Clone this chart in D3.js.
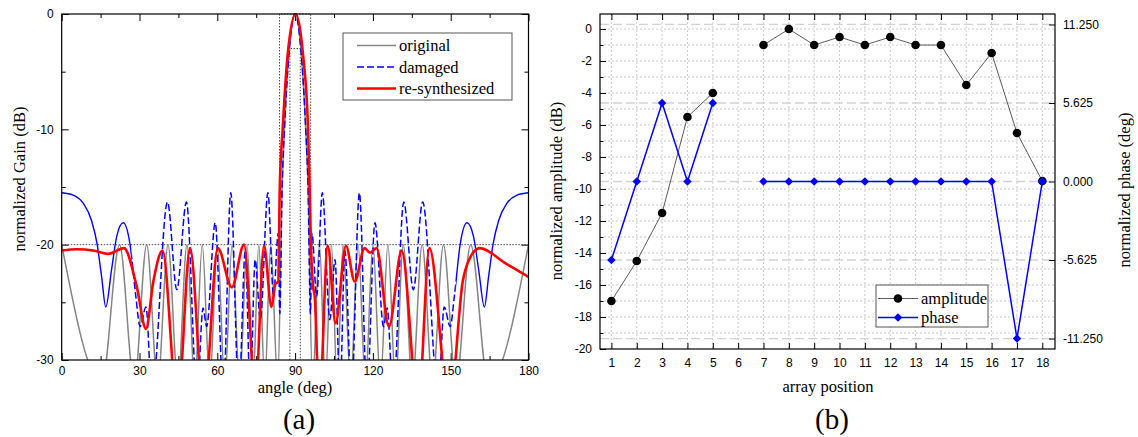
<!DOCTYPE html>
<html>
<head>
<meta charset="utf-8">
<script src="https://cdn.jsdelivr.net/npm/d3@7"></script>
<style>
body { margin: 0; background: #fff; }
.tick text { font-family: "Liberation Sans", Arial, sans-serif; font-size: 12px; fill: #000; }
.tick line { stroke: #000; stroke-width: 1; }
.serif { font-family: "Liberation Serif", "Times New Roman", serif; font-size: 16.5px; fill: #000; }
</style>
</head>
<body>
<script>

// ---- panel (a): radiation patterns, [angle deg, gain dB]
var originalPattern = [[0,-20],[15.5,-32],[22.3,-20],[28,-32],[32.8,-20],[37,-32],[41,-20],[44.8,-32],[48.3,-20],[51.3,-32],[54.2,-20],[57.1,-32],[60,-20],[62.9,-32],[65.7,-20],[68.6,-32],[71.5,-20],[73.8,-32],[76,-20],[78.3,-32],[80.6,-20],[83.3,-32],[85,-15],[85.9,-10],[87.8,-3],[90,0],[92.2,-3],[94.1,-10],[95,-15],[96.7,-32],[99.4,-20],[101.7,-32],[104,-20],[106.2,-32],[108.5,-20],[111.4,-32],[114.3,-20],[117.1,-32],[120,-20],[122.9,-32],[125.8,-20],[128.7,-32],[131.7,-20],[135.2,-32],[139,-20],[143,-32],[147.2,-20],[152,-32],[157.7,-20],[164.5,-32],[180,-20]];

var damagedPattern = [[0,-15.5],[4.4,-15.7],[8.3,-16.4],[11.5,-17.9],[13.7,-20],[15.4,-22.8],[17,-25.4],[19.2,-22.2],[21.2,-19.3],[23.7,-18.1],[26.3,-19.9],[28.6,-24.5],[30.2,-27.1],[32.5,-25.4],[34.8,-33],[40.8,-16.3],[44.4,-23.9],[48.1,-16.3],[52.2,-33],[54.5,-25.5],[55.9,-27.1],[59.2,-18.1],[62.3,-33],[65.2,-15.5],[68.3,-33],[70.8,-20.5],[72.7,-33],[74.6,-21.3],[76.6,-26.5],[79.5,-15.5],[81.7,-24.5],[83.5,-19],[84.1,-26],[85,-15],[85.9,-10],[87.8,-3],[90,0],[92.2,-3],[94.1,-10],[95,-15],[95.9,-26],[96.5,-19],[98.3,-24.5],[100.5,-15.5],[103.4,-26.5],[105.4,-21.3],[107.3,-33],[109.2,-20.5],[111.7,-33],[114.8,-15.5],[117.7,-33],[120.8,-18.1],[124.1,-27.1],[125.5,-25.5],[127.8,-33],[131.9,-16.3],[135.6,-23.9],[139.2,-16.3],[145.2,-33],[147.5,-25.4],[149.8,-27.1],[151.4,-24.5],[153.7,-19.9],[156.3,-18.1],[158.8,-19.3],[160.8,-22.2],[163,-25.4],[164.6,-22.8],[166.3,-20],[168.5,-17.9],[171.7,-16.4],[175.6,-15.7],[180,-15.5]];

var resynthPattern = [[0,-20.5],[6,-20.4],[12,-20.5],[18,-20.8],[24,-20.3],[28.9,-23.6],[32.5,-27.3],[35.4,-23.1],[38.9,-20.5],[44.7,-34],[49.5,-20.3],[54.8,-34],[60.2,-20.3],[65.6,-23.7],[70.3,-20],[74.7,-33],[78,-20.1],[80.9,-25.4],[82.4,-23.4],[83.5,-23.2],[84.1,-15],[85.2,-10],[87.2,-3.4],[90.2,0],[93,-3.4],[95,-10],[95.6,-15],[96.1,-20],[96.9,-23.5],[97.6,-24.6],[99.3,-34],[102.6,-20.1],[105.6,-26.8],[109.6,-20.1],[113,-23.2],[116.8,-20.3],[118.9,-20.7],[121.4,-20.3],[126.2,-27.1],[131.1,-20.5],[137.5,-34],[141.8,-20.3],[149.5,-34],[154.7,-23.1],[158,-20.9],[161.2,-20.3],[171,-21.6],[180,-22.8]];

// sidelobe mask (upper) and main beam mask (lower)
var upperMask = [[0,-20],[84,-20],[84,0],[96,0],[96,-20],[180,-20]];
var lowerMask = [[88,-30],[88,-3],[92,-3],[92,-30]];

var angleTicks = [0,30,60,90,120,150,180];
var angleMinor = [15,45,75,105,135,165];
var gainTicks = [-30,-20,-10,0];
var gainMinor = [-25,-15,-5];

// ---- panel (b): element excitations (element 6 is the damaged one)
var positions = [1,2,3,4,5,6,7,8,9,10,11,12,13,14,15,16,17,18];
var amplitude = [-17,-14.5,-11.5,-5.5,-4,null,-1,0,-1,-0.5,-1,-0.5,-1,-1,-3.5,-1.5,-6.5,-9.5];
var phase = [-5.625,0,5.625,0,5.625,null,0,0,0,0,0,0,0,0,0,0,-11.25,0];
var ampTicks = [0,-2,-4,-6,-8,-10,-12,-14,-16,-18,-20];
var ampMinor = [-1,-3,-5,-7,-9,-11,-13,-15,-17,-19];
var phaseTicks = [11.25,5.625,0,-5.625,-11.25];

var width = 1138, height = 437;

var svg = d3.select("body").append("svg")
    .attr("width", width)
    .attr("height", height);

svg.append("rect").attr("width", width).attr("height", height).attr("fill", "white");

// plain hyphen minus like the original figure
var plain = function(d){ return String(d); };

function cleanAxis(g){
    g.select(".domain").remove();
    g.attr("font-size", null).attr("font-family", null);
}

function drawPanelA(){
    var x = d3.scaleLinear().domain([0,180]).range([61.7,528.5]);
    var y = d3.scaleLinear().domain([-30,0]).range([360,14]);

    var defs = svg.append("defs");
    defs.append("clipPath").attr("id","clipA")
        .append("rect").attr("x",x(0)).attr("y",8).attr("width",x(180)-x(0)).attr("height",y(-30)-8);
    // the damaged curve looks solid near the ends and dashed in between
    var solidEnds = defs.append("clipPath").attr("id","clipEnds");
    solidEnds.append("rect").attr("x",x(0)).attr("y",8).attr("width",x(27)-x(0)).attr("height",y(-30)-8);
    solidEnds.append("rect").attr("x",x(152)).attr("y",8).attr("width",x(180)-x(152)).attr("height",y(-30)-8);
    defs.append("clipPath").attr("id","clipMid")
        .append("rect").attr("x",x(27)).attr("y",8).attr("width",x(152)-x(27)).attr("height",y(-30)-8);

    // ticks, all pointing inward
    svg.append("g").attr("transform","translate(0,"+y(-30)+")")
        .call(d3.axisBottom(x).tickValues(angleTicks).tickSize(-7).tickPadding(6.5).tickFormat(plain)).call(cleanAxis);
    svg.append("g").attr("transform","translate(0,"+y(-30)+")")
        .call(d3.axisBottom(x).tickValues(angleMinor).tickSize(-4).tickFormat("")).call(cleanAxis);
    svg.append("g").attr("transform","translate(0,"+y(0)+")")
        .call(d3.axisTop(x).tickValues(angleTicks).tickSize(-7).tickFormat("")).call(cleanAxis);
    svg.append("g").attr("transform","translate(0,"+y(0)+")")
        .call(d3.axisTop(x).tickValues(angleMinor).tickSize(-4).tickFormat("")).call(cleanAxis);
    svg.append("g").attr("transform","translate("+x(0)+",0)")
        .call(d3.axisLeft(y).tickValues(gainTicks).tickSize(-7).tickPadding(8).tickFormat(plain)).call(cleanAxis);
    svg.append("g").attr("transform","translate("+x(0)+",0)")
        .call(d3.axisLeft(y).tickValues(gainMinor).tickSize(-4).tickFormat("")).call(cleanAxis);
    svg.append("g").attr("transform","translate("+x(180)+",0)")
        .call(d3.axisRight(y).tickValues(gainTicks).tickSize(-7).tickFormat("")).call(cleanAxis);
    svg.append("g").attr("transform","translate("+x(180)+",0)")
        .call(d3.axisRight(y).tickValues(gainMinor).tickSize(-4).tickFormat("")).call(cleanAxis);

    var plot = svg.append("g").attr("clip-path","url(#clipA)");

    var mask = d3.line().x(function(d){return x(d[0]);}).y(function(d){return y(d[1]);});
    plot.append("path").attr("d", mask(upperMask))
        .attr("fill","none").attr("stroke","#333").attr("stroke-width",0.9).attr("stroke-dasharray","1.5,1.5");
    plot.append("path").attr("d", mask(lowerMask))
        .attr("fill","none").attr("stroke","#333").attr("stroke-width",0.9).attr("stroke-dasharray","1.5,1.5");

    var line = d3.line()
        .x(function(d){return x(d[0]);})
        .y(function(d){return y(d[1]);})
        .curve(d3.curveMonotoneX);

    plot.append("path").attr("d", line(originalPattern))
        .attr("fill","none").attr("stroke","#858585").attr("stroke-width",1.5);
    plot.append("path").attr("d", line(damagedPattern)).attr("clip-path","url(#clipEnds)")
        .attr("fill","none").attr("stroke","#0000ff").attr("stroke-width",1.4);
    plot.append("path").attr("d", line(damagedPattern)).attr("clip-path","url(#clipMid)")
        .attr("fill","none").attr("stroke","#0000ff").attr("stroke-width",1.5).attr("stroke-dasharray","7,3");
    plot.append("path").attr("d", line(resynthPattern))
        .attr("fill","none").attr("stroke","#ff0000").attr("stroke-width",2.6);

    svg.append("rect").attr("x",x(0)).attr("y",y(0)).attr("width",x(180)-x(0)).attr("height",y(-30)-y(0))
        .attr("fill","none").attr("stroke","#000").attr("stroke-width",1.2);

    // legend
    svg.append("rect").attr("x",343).attr("y",33).attr("width",169).attr("height",67)
        .attr("fill","white").attr("stroke","#444").attr("stroke-width",0.9);
    var items = [
        {name:"original", color:"#858585", w:1.5, dash:null, y:45.5},
        {name:"damaged", color:"#0000ff", w:1.5, dash:"7,3", y:67},
        {name:"re-synthesized", color:"#ff0000", w:2.6, dash:null, y:88.5}
    ];
    items.forEach(function(it){
        svg.append("line").attr("x1",357).attr("x2",396).attr("y1",it.y).attr("y2",it.y)
            .attr("stroke",it.color).attr("stroke-width",it.w).attr("stroke-dasharray",it.dash);
        svg.append("text").attr("class","serif").attr("x",399).attr("y",it.y+5.5).text(it.name);
    });

    svg.append("text").attr("class","serif")
        .attr("transform","translate(25,179) rotate(-90)")
        .style("text-anchor","middle")
        .text("normalized Gain (dB)");
    svg.append("text").attr("class","serif")
        .attr("x",295).attr("y",393)
        .style("text-anchor","middle")
        .text("angle (deg)");
    svg.append("text").attr("class","serif")
        .attr("x",299).attr("y",429)
        .style("text-anchor","middle").style("font-size","29px")
        .text("(a)");
}

function drawPanelB(){
    var x = d3.scaleLinear().domain([0.55,18.5]).range([600,1055]);
    var yAmp = d3.scaleLinear().domain([-20,0.94]).range([349,14]);
    var yPh = d3.scaleLinear().domain([-12,12]).range([349,14]);

    // grid
    var grid = svg.append("g");
    grid.selectAll(".vgrid").data(positions).enter().append("line")
        .attr("x1",function(d){return x(d);}).attr("x2",function(d){return x(d);})
        .attr("y1",14).attr("y2",349)
        .attr("stroke","#c4c4c4").attr("stroke-width",0.9).attr("stroke-dasharray","2,2");
    grid.selectAll(".hgrid").data(d3.range(-19,1)).enter().append("line")
        .attr("x1",600).attr("x2",1055)
        .attr("y1",function(d){return yAmp(d);}).attr("y2",function(d){return yAmp(d);})
        .attr("stroke","#c4c4c4").attr("stroke-width",0.9).attr("stroke-dasharray","2,2");
    grid.selectAll(".pgrid").data(phaseTicks).enter().append("line")
        .attr("x1",600).attr("x2",1055)
        .attr("y1",function(d){return yPh(d);}).attr("y2",function(d){return yPh(d);})
        .attr("stroke","#d2d2d2").attr("stroke-width",1.3).attr("stroke-dasharray","9,4");

    // ticks
    svg.append("g").attr("transform","translate(0,349)")
        .call(d3.axisBottom(x).tickValues(positions).tickSize(-6).tickPadding(9).tickFormat(plain)).call(cleanAxis);
    svg.append("g").attr("transform","translate(0,14)")
        .call(d3.axisTop(x).tickValues(positions).tickSize(-6).tickFormat("")).call(cleanAxis);
    svg.append("g").attr("transform","translate(600,0)")
        .call(d3.axisLeft(yAmp).tickValues(ampTicks).tickSize(-6).tickPadding(8).tickFormat(plain)).call(cleanAxis);
    svg.append("g").attr("transform","translate(600,0)")
        .call(d3.axisLeft(yAmp).tickValues(ampMinor).tickSize(-3.5).tickFormat("")).call(cleanAxis);
    svg.append("g").attr("transform","translate(1055,0)")
        .call(d3.axisRight(yPh).tickValues(phaseTicks).tickSize(-6).tickPadding(8)
            .tickFormat(function(d){return d.toFixed(3);})).call(cleanAxis);

    svg.append("rect").attr("x",600).attr("y",14).attr("width",455).attr("height",335)
        .attr("fill","none").attr("stroke","#000").attr("stroke-width",1.2);

    var ampLine = d3.line()
        .defined(function(d,i){return amplitude[i] !== null;})
        .x(function(d){return x(d);})
        .y(function(d,i){return yAmp(amplitude[i]);});
    var phLine = d3.line()
        .defined(function(d,i){return phase[i] !== null;})
        .x(function(d){return x(d);})
        .y(function(d,i){return yPh(phase[i]);});

    svg.append("path").attr("d", ampLine(positions))
        .attr("fill","none").attr("stroke","#333").attr("stroke-width",0.8);
    svg.selectAll(".amp").data(positions.filter(function(d,i){return amplitude[i] !== null;}))
        .enter().append("circle")
        .attr("cx",function(d){return x(d);})
        .attr("cy",function(d){return yAmp(amplitude[d-1]);})
        .attr("r",4.3).attr("fill","#000");

    svg.append("path").attr("d", phLine(positions))
        .attr("fill","none").attr("stroke","#0000ff").attr("stroke-width",1.5);
    var diamond = d3.symbol().type(d3.symbolDiamond2).size(46);
    svg.selectAll(".ph").data(positions.filter(function(d,i){return phase[i] !== null;}))
        .enter().append("path")
        .attr("d", diamond)
        .attr("transform",function(d){return "translate("+x(d)+","+yPh(phase[d-1])+")";})
        .attr("fill","#0000ff");

    // legend
    svg.append("rect").attr("x",876).attr("y",285).attr("width",112).attr("height",42)
        .attr("fill","white").attr("stroke","#444").attr("stroke-width",0.9);
    svg.append("line").attr("x1",878).attr("x2",918).attr("y1",298.5).attr("y2",298.5)
        .attr("stroke","#333").attr("stroke-width",0.8);
    svg.append("circle").attr("cx",898).attr("cy",298.5).attr("r",4.3).attr("fill","#000");
    svg.append("text").attr("class","serif").attr("x",921).attr("y",304).text("amplitude");
    svg.append("line").attr("x1",878).attr("x2",918).attr("y1",317.5).attr("y2",317.5)
        .attr("stroke","#0000ff").attr("stroke-width",1.5);
    svg.append("path").attr("d",diamond).attr("transform","translate(898,317.5)").attr("fill","#0000ff");
    svg.append("text").attr("class","serif").attr("x",921).attr("y",323).text("phase");

    svg.append("text").attr("class","serif")
        .attr("transform","translate(562,191) rotate(-90)")
        .style("text-anchor","middle")
        .text("normalized amplitude (dB)");
    svg.append("text").attr("class","serif")
        .attr("transform","translate(1130,190) rotate(-90)")
        .style("text-anchor","middle")
        .text("normalized phase (deg)");
    svg.append("text").attr("class","serif")
        .attr("x",828).attr("y",391.5)
        .style("text-anchor","middle")
        .text("array position");
    svg.append("text").attr("class","serif")
        .attr("x",832).attr("y",429)
        .style("text-anchor","middle").style("font-size","29px")
        .text("(b)");
}

drawPanelA();
drawPanelB();

</script>
</body>
</html>
